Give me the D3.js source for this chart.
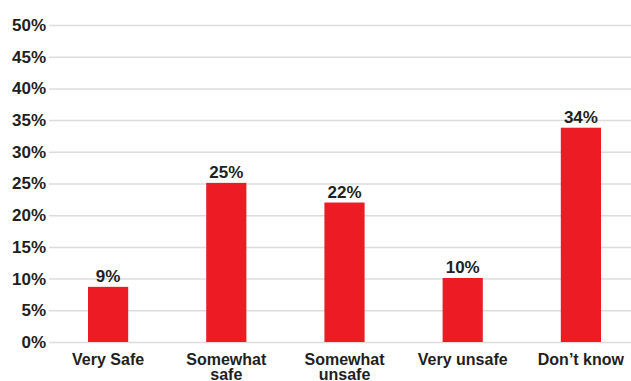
<!DOCTYPE html>
<html><head><meta charset="utf-8">
<script src="https://cdn.jsdelivr.net/npm/d3@7"></script>
<style>body{margin:0;background:#fff}svg{display:block}</style>
</head><body>
<svg id="c" width="631" height="381"></svg>
<script>
const categories = [["Very Safe"], ["Somewhat", "safe"], ["Somewhat", "unsafe"], ["Very unsafe"], ["Don\u2019t know"]];
const values = [8.7, 25.1, 22.0, 10.1, 33.8];
const valueLabels = ["9%", "25%", "22%", "10%", "34%"];
const yTicks = [0, 5, 10, 15, 20, 25, 30, 35, 40, 45, 50];

const svg = d3.select("#c");
const font = "'Liberation Sans', Arial, sans-serif";
const x = d3.scaleBand().domain(d3.range(categories.length)).range([49, 640]).paddingInner(0.66).paddingOuter(0.33);
const y = d3.scaleLinear().domain([0, 50]).range([342, 25]);

const yAxis = d3.axisLeft(y).tickValues(yTicks).tickFormat(d => d + "%").tickSize(-(631 - 49)).tickPadding(4);
const gy = svg.append("g").attr("transform", "translate(49,0)").call(yAxis);
gy.select(".domain").remove();
gy.selectAll(".tick line").attr("stroke", "#dcdcdc").attr("stroke-width", 1.5);
gy.selectAll(".tick text").attr("fill", "#231f20").attr("font-family", font).attr("font-weight", "bold").attr("font-size", 17).attr("x", -3);

svg.append("g").selectAll("rect").data(values).join("rect")
  .attr("x", (d, i) => x(i)).attr("width", x.bandwidth())
  .attr("y", d => y(d)).attr("height", d => y(0) - y(d))
  .attr("fill", "#ed1c24");

svg.append("g").selectAll("text").data(values).join("text")
  .attr("x", (d, i) => x(i) + x.bandwidth() / 2).attr("y", d => y(d) - 5)
  .attr("text-anchor", "middle").attr("font-family", font).attr("font-weight", "bold")
  .attr("font-size", 17).attr("fill", "#231f20").text((d, i) => valueLabels[i]);

const cl = svg.append("g").selectAll("text").data(categories).join("text")
  .attr("x", (d, i) => x(i) + x.bandwidth() / 2).attr("y", 365)
  .attr("text-anchor", "middle").attr("font-family", font).attr("font-weight", "bold")
  .attr("font-size", 16).attr("fill", "#231f20");
cl.selectAll("tspan").data(d => d).join("tspan")
  .attr("x", function () { return d3.select(this.parentNode).attr("x"); })
  .attr("dy", (d, j) => j === 0 ? 0 : 15).text(d => d);
</script>
</body></html>
